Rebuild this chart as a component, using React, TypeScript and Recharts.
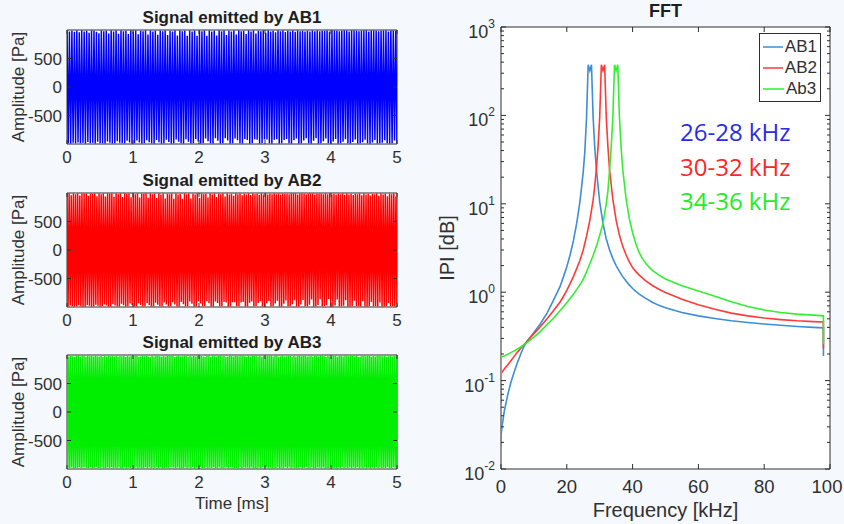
import React from 'react';
import { LineChart, Line, XAxis, YAxis, CartesianGrid, ReferenceArea, Legend, Label } from 'recharts';

// time signals: successive peak values [Pa] over 0..5 ms
const ab1Signal = [
  980,-985,975,-990,985,-980,970,-985,990,-975, 960,-985,990,-980,975,-990,985,-965,950,-985,
  990,-980,985,-990,970,-960,945,-985,990,-985, 980,-990,985,-955,940,-980,990,-990,975,-985,
  990,-950,935,-980,990,-985,980,-990,985,-945, 930,-975,990,-990,975,-985,990,-940,925,-975,
  985,-990,980,-985,990,-935,920,-970,990,-985, 975,-990,985,-930,915,-970,990,-990,980,-985,
  990,-925,910,-965,985,-990,975,-985,990,-920, 905,-960,990,-985,980,-990,985,-915,900,-960,
  990,-990,975,-985,990,-910,900,-955,985,-990, 980,-985,990,-905,900,-950,990,-985,975,-990,
  985,-900,905,-945,990,-990,980,-985,990,-900, 910,-940,985,-990,975,-985,990,-905,920,-935,
  990,-985,980,-990,985,-910,930,-930,990,-990, 975,-985,990,-915,940,-925,985,-990,980,-985,
  990,-920,950,-920,990,-985,975,-990,985,-925, 960,-915,990,-990,980,-985,990,-930,965,-910,
  985,-985,975,-990,990,-935,970,-905,990,-990, 980,-985,985,-940,975,-900,985,-985,975,-990,
  990,-945,980,-900,990,-990,980,-985,985,-950, 985,-905,990,-985,975,-990,990,-955,990,-910,
  985,-990,980,-985,985,-960,990,-915,990,-985, 975,-990,990,-965,990,-920,985,-990,980,-985,
  985,-970,990,-925,990,-985,975,-990,990,-975, 990,-930,985,-990,980,-985,985,-980,990,-935,
  990,-985,975,-990,990,-985,990,-940,985,-980,
];

const ab2Signal = [
  985,-990,990,-975,960,-985,990,-990,980,-985, 990,-970,955,-985,990,-990,985,-990,990,-965,
  950,-980,990,-990,985,-985,990,-960,945,-980, 990,-990,980,-985,990,-955,940,-975,990,-990,
  985,-990,990,-950,935,-975,990,-985,980,-990, 990,-945,930,-970,990,-990,985,-985,990,-940,
  925,-970,990,-990,980,-990,990,-935,920,-965, 985,-990,985,-985,990,-930,915,-965,990,-990,
  980,-990,985,-925,910,-960,990,-985,975,-990, 990,-920,905,-955,985,-990,980,-985,990,-915,
  900,-955,990,-990,975,-990,985,-910,900,-950, 990,-985,980,-985,990,-905,905,-945,985,-990,
  975,-990,990,-900,910,-940,990,-985,980,-985, 985,-900,920,-935,990,-990,975,-990,990,-905,
  930,-930,985,-985,980,-985,990,-910,940,-920, 990,-990,975,-990,985,-915,950,-915,990,-985,
  980,-985,990,-920,960,-910,985,-990,975,-990, 990,-925,965,-905,990,-985,980,-985,985,-930,
  970,-900,990,-990,975,-990,990,-935,975,-895, 985,-985,980,-985,990,-940,980,-890,990,-990,
  975,-990,985,-945,985,-885,985,-985,980,-985, 990,-950,990,-880,990,-990,975,-990,985,-955,
  990,-875,985,-985,980,-985,990,-960,990,-870, 990,-990,975,-990,985,-965,985,-865,985,-985,
  980,-985,990,-970,980,-860,990,-990,975,-990, 985,-975,975,-870,985,-985,980,-985,990,-980,
  970,-880,990,-990,975,-990,985,-985,965,-890, 985,-985,980,-985,990,-990,960,-900,990,-990,
  975,-990,985,-985,955,-910,985,-985,980,-985, 990,-990,950,-920,990,-990,975,-990,985,-985,
  945,-930,985,-985,980,-985,990,-990,940,-940,
];

const ab3Signal = [
  985,-980,975,-985,990,-975,980,-990,970,-985, 990,-980,985,-970,975,-990,985,-980,990,-975,
  970,-985,990,-985,980,-975,985,-990,975,-980, 990,-970,980,-985,975,-990,990,-980,965,-985,
  985,-990,975,-975,990,-985,980,-970,985,-990, 975,-980,990,-985,970,-975,985,-990,980,-985,
  990,-975,965,-990,985,-980,975,-985,990,-970, 980,-985,990,-975,985,-990,970,-980,975,-985,
  985,-990,980,-970,990,-985,975,-975,965,-990, 990,-980,975,-985,985,-970,990,-990,980,-975,
  970,-985,985,-990,975,-980,990,-985,985,-970, 985,-975,990,-980,965,-990,980,-975,990,-985,
  975,-990,980,-985,990,-975,985,-990,970,-980, 990,-985,975,-970,985,-990,975,-980,990,-985,
  980,-970,990,-990,975,-985,965,-975,985,-990, 985,-980,970,-985,990,-970,980,-990,975,-985,
  990,-975,985,-990,980,-985,990,-980,965,-970, 975,-990,990,-975,985,-980,975,-985,990,-990,
  985,-985,980,-970,990,-990,985,-975,980,-980, 970,-980,990,-985,975,-975,990,-990,985,-985,
  990,-990,975,-980,985,-985,970,-970,990,-975, 980,-975,985,-990,990,-980,985,-985,975,-990,
  985,-985,990,-975,970,-990,980,-980,990,-985, 975,-970,980,-985,990,-975,985,-990,965,-980,
  990,-985,975,-990,985,-980,990,-975,980,-985, 985,-980,990,-970,975,-985,980,-990,990,-975,
  970,-990,985,-985,990,-975,975,-980,985,-990, 990,-975,980,-990,965,-985,990,-985,975,-970,
  980,-985,990,-980,985,-990,970,-975,990,-985, 985,-970,975,-985,990,-980,985,-990,980,-975,
  990,-990,985,-975,980,-985,990,-970,965,-990, 975,-980,990,-990,985,-975,980,-985,990,-980,
  985,-985,970,-980,990,-990,975,-975,985,-985, 990,-975,985,-990,980,-980,990,-985,970,-970,
  980,-990,990,-985,975,-975,985,-980,990,-985,
];

const timeTicks = [0, 1, 2, 3, 4, 5];
const ampTicks = [-500, 0, 500];

// spectra |P|, frequency in kHz
const ab1Freq = [0, 0, 0.3, 1, 2, 3, 4, 5, 6, 7, 8, 10, 12, 14, 16, 18, 19, 20, 21, 22, 23, 24, 25, 25.5, 26, 26.5, 27, 27.5, 28, 28.5, 29, 30, 31, 32, 33, 34, 35, 36, 37, 38, 39, 40, 42, 44, 46, 48, 50, 55, 60, 65, 70, 75, 80, 85, 90, 95, 98, 98];
const ab1Mag = [0.018, 0.024, 0.03, 0.045, 0.068, 0.095, 0.125, 0.16, 0.2, 0.245, 0.28, 0.35, 0.44, 0.58, 0.82, 1.17, 1.5, 1.94, 2.64, 3.8, 6.0, 10.6, 23, 40, 95, 375, 320, 375, 95, 43, 24, 10.5, 6.0, 4.0, 3.0, 2.4, 2.0, 1.72, 1.5, 1.34, 1.21, 1.1, 0.95, 0.85, 0.77, 0.71, 0.665, 0.59, 0.54, 0.505, 0.475, 0.455, 0.437, 0.422, 0.41, 0.4, 0.395, 0.19];

const ab2Freq = [0, 0, 1, 2, 3, 4, 5, 6, 7, 8, 10, 12, 14, 16, 18, 19, 20, 21, 22, 23, 24, 25, 26, 27, 28, 28.5, 29, 29.5, 30, 30.5, 31, 31.5, 32, 32.5, 33, 34, 35, 36, 37, 38, 39, 40, 41, 42, 44, 46, 48, 50, 55, 60, 65, 70, 75, 80, 85, 90, 95, 98, 98];
const ab2Mag = [0.055, 0.12, 0.135, 0.15, 0.168, 0.188, 0.21, 0.232, 0.255, 0.28, 0.34, 0.41, 0.5, 0.62, 0.78, 0.9, 1.05, 1.25, 1.5, 1.85, 2.3, 3.0, 4.3, 6.5, 11, 16, 25, 44, 95, 375, 320, 375, 95, 44, 24, 11.2, 6.5, 4.4, 3.3, 2.65, 2.2, 1.9, 1.71, 1.56, 1.34, 1.19, 1.08, 0.99, 0.83, 0.72, 0.64, 0.58, 0.54, 0.51, 0.49, 0.475, 0.465, 0.46, 0.23];

const ab3Freq = [0, 0, 1, 2, 3, 4, 5, 6, 7, 8, 10, 12, 14, 16, 18, 20, 21, 22, 23, 24, 25, 26, 27, 28, 29, 30, 31, 32, 32.5, 33, 33.5, 34, 34.5, 35, 35.5, 36, 36.5, 37, 38, 39, 40, 41, 42, 43, 44, 45, 46, 48, 50, 55, 60, 65, 70, 75, 80, 85, 90, 95, 98, 98];
const ab3Mag = [0.09, 0.185, 0.19, 0.198, 0.207, 0.217, 0.228, 0.24, 0.255, 0.27, 0.31, 0.36, 0.43, 0.51, 0.62, 0.76, 0.85, 0.95, 1.07, 1.22, 1.4, 1.7, 2.1, 2.6, 3.3, 4.4, 6.0, 10, 14, 24, 44, 95, 375, 320, 375, 95, 44, 24.6, 11.5, 6.8, 4.7, 3.5, 2.8, 2.4, 2.12, 1.92, 1.77, 1.56, 1.41, 1.18, 1.03, 0.9, 0.78, 0.69, 0.63, 0.59, 0.565, 0.55, 0.54, 0.26];

const freqTicks = [0, 20, 40, 60, 80, 100];
const decadeTicks = [0.01, 0.1, 1, 10, 100, 1000];
const minorSteps = [2, 3, 4, 5, 6, 7, 8, 9];

const bandLabels = ['26-28 kHz', '30-32 kHz', '34-36 kHz'];

const FONT = '"Liberation Sans", Arial, Helvetica, sans-serif';
const AXIS = '#2e2e2e';
const TEXT = '#303030';
const BG = '#f5f8fc';

const SIG_PLOT_W = 330;
const SIG_PLOT_H = 114;
const FFT_PLOT_W = 329;
const FFT_PLOT_H = 442;

const toSignal = (vals: number[]) => vals.map((v, i) => ({ t: (i * 5) / (vals.length - 1), v }));
const toSpectrum = (f: number[], m: number[]) => f.map((fv, i) => ({ f: fv, p: m[i] }));

const signals = [
  { title: 'Signal emitted by AB1', data: toSignal(ab1Signal), color: '#0000ff', top: 0 },
  { title: 'Signal emitted by AB2', data: toSignal(ab2Signal), color: '#ff0000', top: 163 },
  { title: 'Signal emitted by AB3', data: toSignal(ab3Signal), color: '#00ee00', top: 325 },
];

const spectra = [
  { name: 'AB1', data: toSpectrum(ab1Freq, ab1Mag), color: '#3d8ed4' },
  { name: 'AB2', data: toSpectrum(ab2Freq, ab2Mag), color: '#ff3a3a' },
  { name: 'Ab3', data: toSpectrum(ab3Freq, ab3Mag), color: '#33ee33' },
];
const bandColors = ['#2b2be6', '#ff2626', '#22ee22'];

const logTicks: number[] = [];
decadeTicks.forEach((d, i) => {
  logTicks.push(d);
  if (i < decadeTicks.length - 1) minorSteps.forEach((s) => logTicks.push(+(d * s).toPrecision(3)));
});

const SigXTick = (props: any) => {
  const { x, y, payload } = props;
  const b = y - 6;
  return (
    <g>
      <line x1={x} x2={x} y1={b} y2={b - 4} stroke={AXIS} />
      <line x1={x} x2={x} y1={b - SIG_PLOT_H} y2={b - SIG_PLOT_H + 4} stroke={AXIS} />
      <text x={x} y={y} dy="0.75em" textAnchor="middle" fontSize={17} fill={TEXT}>{payload.value}</text>
    </g>
  );
};

const SigYTick = (props: any) => {
  const { x, y, payload } = props;
  const e = x + 5;
  return (
    <g>
      <line x1={e} x2={e + 4} y1={y} y2={y} stroke={AXIS} />
      <line x1={e + SIG_PLOT_W} x2={e + SIG_PLOT_W - 4} y1={y} y2={y} stroke={AXIS} />
      <text x={x} y={y} dy="0.36em" textAnchor="end" fontSize={17} fill={TEXT}>{payload.value}</text>
    </g>
  );
};

const FftXTick = (props: any) => {
  const { x, y, payload } = props;
  const b = y - 10;
  const last = payload.value === freqTicks[freqTicks.length - 1];
  return (
    <g>
      <line x1={x} x2={x} y1={b} y2={b - 5} stroke={AXIS} />
      <line x1={x} x2={x} y1={b - FFT_PLOT_H} y2={b - FFT_PLOT_H + 5} stroke={AXIS} />
      <text x={x} y={y} dx={last ? -3 : 0} dy="0.75em" textAnchor="middle" fontSize={18.5} fill={TEXT}>{payload.value}</text>
    </g>
  );
};

const FftYTick = (props: any) => {
  const { x, y, payload } = props;
  const lg = Math.log10(payload.value);
  const exp = Math.round(lg);
  const major = Math.abs(lg - exp) < 1e-6;
  const len = major ? 5 : 3;
  const e = x + 6;
  return (
    <g>
      <line x1={e} x2={e + len} y1={y} y2={y} stroke={AXIS} />
      <line x1={e + FFT_PLOT_W} x2={e + FFT_PLOT_W - len} y1={y} y2={y} stroke={AXIS} />
      {major && (
        <text x={x} y={y + 11} textAnchor="end" fontSize={18} fill={TEXT}>
          10<tspan dy={-10} fontSize={12}>{exp}</tspan>
        </text>
      )}
    </g>
  );
};

const FftLegend = (props: any) => (
  <div style={{ border: `1px solid ${AXIS}`, background: '#fff', padding: '2px 3px 2px 3px', width: 54 }}>
    {(props.payload || []).map((p: any) => (
      <div key={p.value} style={{ display: 'flex', alignItems: 'center', height: 21, fontSize: 17, color: TEXT }}>
        <svg width={21} height={4} style={{ marginRight: 2 }}>
          <line x1={0} x2={21} y1={2} y2={2} stroke={p.color} strokeWidth={1.5} />
        </svg>
        {p.value}
      </div>
    ))}
  </div>
);

const SignalPanel = ({ s, last }: { s: any; last: boolean }) => (
  <div style={{ position: 'absolute', left: 0, top: s.top }}>
    <LineChart width={420} height={last ? 199 : 170} data={s.data} margin={{ top: 30, right: 23, bottom: 0, left: 0 }}>
      <CartesianGrid horizontal={false} vertical={false} fill="#fff" />
      <XAxis dataKey="t" type="number" domain={[0, 5]} ticks={timeTicks} interval={0} allowDataOverflow
        axisLine={false} tickLine={false} tickSize={0} tickMargin={6} height={last ? 55 : 26} tick={<SigXTick />}>
        {last && <Label value="Time [ms]" position="insideBottom" offset={15} style={{ fontSize: 17, fill: TEXT }} />}
      </XAxis>
      <YAxis type="number" domain={[-1000, 1000]} ticks={ampTicks} interval={0} allowDataOverflow
        axisLine={false} tickLine={false} tickSize={0} tickMargin={5} width={67} tick={<SigYTick />}>
        <Label value="Amplitude [Pa]" angle={-90} position="insideLeft" offset={18}
          style={{ textAnchor: 'middle', fontSize: 17, fill: TEXT }} />
      </YAxis>
      <Line dataKey="v" type="linear" stroke={s.color} strokeWidth={1.5} dot={false} isAnimationActive={false} />
      <ReferenceArea x1={0} x2={5} y1={-1000} y2={1000} fill="none" stroke={AXIS} strokeWidth={1} ifOverflow="visible" />
    </LineChart>
    <div style={{ position: 'absolute', left: 67, width: SIG_PLOT_W, top: 8.7, textAlign: 'center',
      fontSize: 17, lineHeight: '17px', fontWeight: 'bold', color: '#1e1e1e' }}>{s.title}</div>
  </div>
);

export default function App() {
  return (
    <div style={{ position: 'absolute', left: 0, top: 0, width: 844, height: 524, background: BG, fontFamily: FONT, overflow: 'hidden' }}>
      {signals.map((s, i) => (
        <SignalPanel key={s.title} s={s} last={i === signals.length - 1} />
      ))}

      <div style={{ position: 'absolute', left: 420, top: 0 }}>
        <LineChart width={424} height={524} margin={{ top: 27, right: 14, bottom: 0, left: 0 }}>
          <CartesianGrid horizontal={false} vertical={false} fill="#fff" />
          <XAxis dataKey="f" type="number" domain={[0, 100]} ticks={freqTicks} interval={0} allowDataOverflow
            axisLine={false} tickLine={false} tickSize={0} tickMargin={10} height={55} tick={<FftXTick />}>
            <Label value="Frequency [kHz]" position="insideBottom" offset={7} style={{ fontSize: 20, fill: TEXT }} />
          </XAxis>
          <YAxis type="number" scale="log" domain={[0.01, 1000]} ticks={logTicks} interval={0} allowDataOverflow
            axisLine={false} tickLine={false} tickSize={0} tickMargin={6} width={81} tick={<FftYTick />}>
            <Label value="IPI [dB]" angle={-90} position="insideLeft" offset={27}
              style={{ textAnchor: 'middle', fontSize: 20, fill: TEXT }} />
          </YAxis>
          {spectra.map((s) => (
            <Line key={s.name} data={s.data} dataKey="p" name={s.name} type="linear" stroke={s.color}
              strokeWidth={1.6} dot={false} isAnimationActive={false} />
          ))}
          <ReferenceArea x1={0} x2={100} y1={0.01} y2={1000} fill="none" stroke={AXIS} strokeWidth={1} ifOverflow="visible" />
          <Legend layout="vertical" align="center" verticalAlign="middle" content={<FftLegend />}
            wrapperStyle={{ left: 339, top: 33, width: 'auto' }} />
        </LineChart>
        <div style={{ position: 'absolute', left: 81, width: FFT_PLOT_W, top: 1.5, textAlign: 'center',
          fontSize: 18, lineHeight: '18px', fontWeight: 'bold', color: '#1e1e1e' }}>FFT</div>
      </div>

      {bandLabels.map((b, i) => (
        <div key={b} style={{ position: 'absolute', left: 680, top: 120 + i * 34.5, fontFamily: '"Open Sans", sans-serif',
          fontSize: 24, lineHeight: '24px', color: bandColors[i], whiteSpace: 'nowrap' }}>{b}</div>
      ))}
    </div>
  );
}
